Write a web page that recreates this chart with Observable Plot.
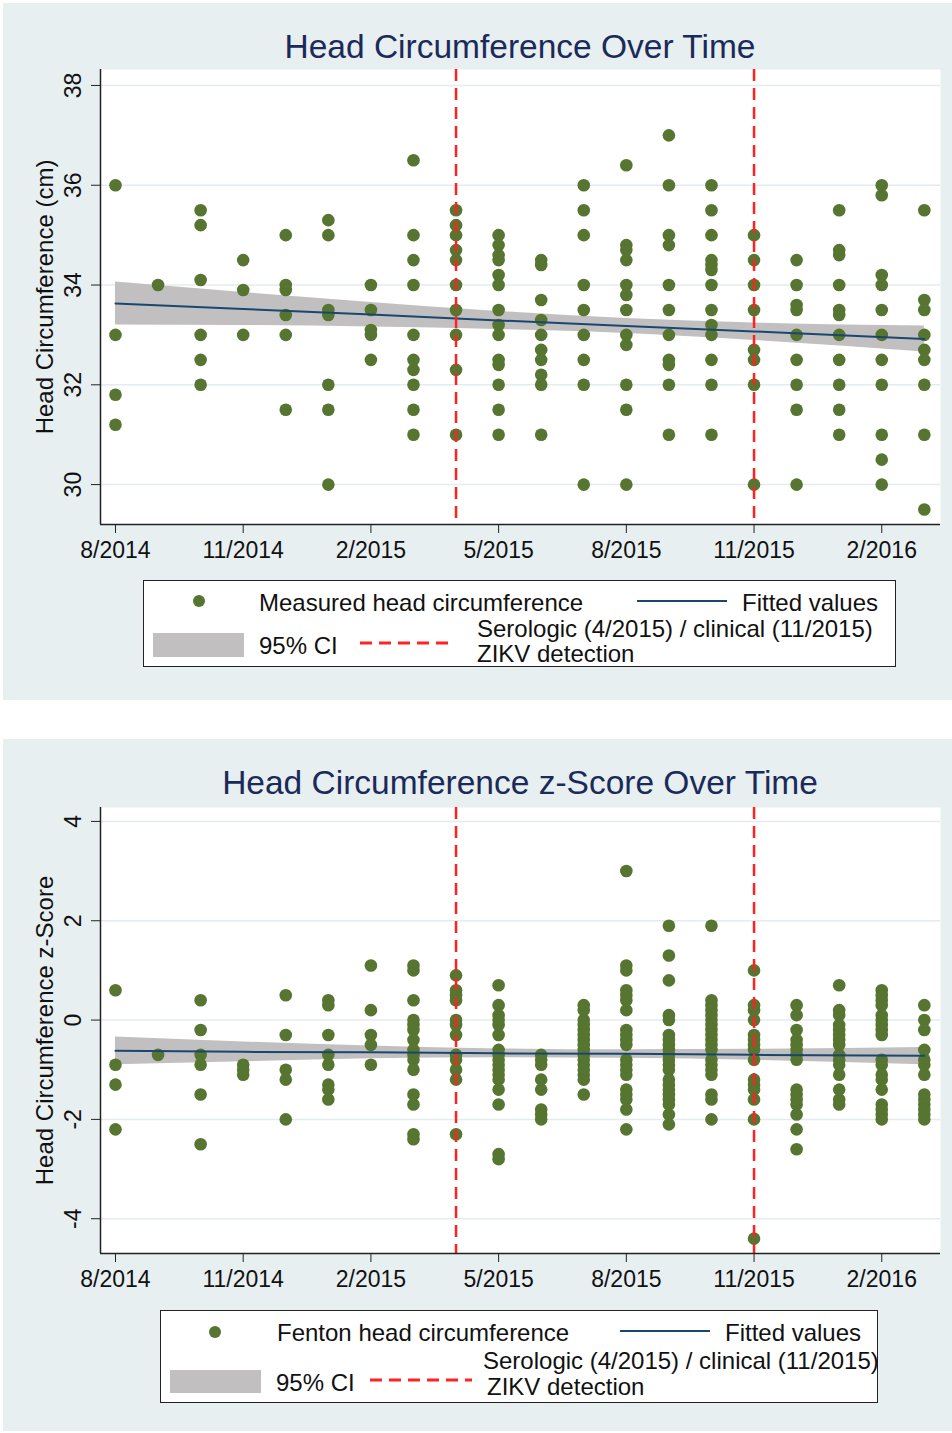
<!DOCTYPE html>
<html>
<head>
<meta charset="utf-8">
<script src="https://cdn.jsdelivr.net/npm/d3@7"></script>
<script src="https://cdn.jsdelivr.net/npm/@observablehq/plot@0.6"></script>
<style>
  html, body { margin: 0; padding: 0; background: #ffffff; }
  body { width: 952px; height: 1433px; position: relative; overflow: hidden;
         font-family: "Liberation Sans", Arial, Helvetica, sans-serif; }
  .panel { position: absolute; background: #e7eff1; }
  .title { position: absolute; width: 840px; left: 100px; text-align: center; font-size: 33.5px;
           line-height: 33.5px; color: #1b2a58; white-space: nowrap; }
  .lt { position: absolute; font-size: 24px; line-height: 22px; color: #111; white-space: nowrap; }
  .box { position: absolute; background: #fff; border: 1.5px solid #222; box-sizing: border-box; }
</style>
</head>
<body>
<script>
// ---------- data ----------
const months = ["8/2014","9/2014","10/2014","11/2014","12/2014","1/2015","2/2015","3/2015","4/2015","5/2015",
                "6/2015","7/2015","8/2015","9/2015","10/2015","11/2015","12/2015","1/2016","2/2016","3/2016"];
const tickMonths = [0, 3, 6, 9, 12, 15, 18];
const zikvMonths = [8, 15]; // 4/2015 serologic, 11/2015 clinical

// Measured head circumference (cm), one list per month
const hcByMonth = [
  [36, 33, 31.8, 31.2],
  [34],
  [35.5, 35.2, 34.1, 33, 32.5, 32],
  [34.5, 33.9, 33],
  [35, 34, 33.9, 33.4, 33, 31.5],
  [35.3, 35, 33.5, 33.4, 32, 31.5, 30],
  [34, 33.5, 33.1, 33, 32.5],
  [36.5, 35, 34.5, 34, 33, 32.5, 32.3, 32, 31.5, 31],
  [35.5, 35.2, 35, 34.7, 34.5, 34, 33.5, 33, 32.3, 31],
  [35, 34.8, 34.6, 34.5, 34.2, 34, 33.5, 33.2, 33, 32.5, 32.4, 32, 31.5, 31],
  [34.5, 34.4, 33.7, 33.3, 33, 32.7, 32.5, 32.2, 32, 31],
  [36, 35.5, 35, 34, 33.5, 33, 32.5, 32, 30],
  [36.4, 34.8, 34.7, 34.5, 34, 33.8, 33.5, 33, 32.8, 32, 31.5, 30],
  [37, 36, 35, 34.8, 34, 33.5, 33, 32.5, 32.4, 32, 31],
  [36, 35.5, 35, 34.5, 34.4, 34.3, 34, 33.5, 33.2, 33, 32.5, 32, 31],
  [35, 34.5, 34, 33.5, 32.7, 32.5, 32, 30],
  [34.5, 34, 33.6, 33.5, 33, 32.5, 32, 31.5, 30],
  [35.5, 34.7, 34.6, 34, 33.5, 33.4, 33, 32.5, 32, 31.5, 31],
  [36, 35.8, 34.2, 34, 33.5, 33, 32.5, 32, 31, 30.5, 30],
  [35.5, 33.7, 33.5, 33, 32.7, 32.5, 32, 31, 29.5]
];

// Fenton head circumference z-score, one list per month
const zByMonth = [
  [0.6, -0.9, -1.3, -2.2],
  [-0.7],
  [0.4, -0.2, -0.7, -0.9, -1.5, -2.5],
  [-0.9, -1.0, -1.1],
  [0.5, -0.3, -1.0, -1.2, -2.0],
  [0.4, 0.3, -0.3, -0.7, -0.9, -1.3, -1.4, -1.6],
  [1.1, 0.2, -0.3, -0.5, -0.9],
  [1.1, 1.0, 0.4, 0, -0.1, -0.2, -0.4, -0.6, -0.7, -0.8, -1.0, -1.5, -1.7, -2.3, -2.4],
  [0.9, 0.6, 0.5, 0.4, 0, -0.1, -0.3, -0.7, -0.8, -1.0, -1.2, -2.3],
  [0.7, 0.3, 0.1, 0, -0.1, -0.3, -0.6, -0.7, -0.8, -0.9, -1.0, -1.1, -1.2, -1.4, -1.7, -2.7, -2.8],
  [-0.7, -0.8, -0.9, -1.2, -1.4, -1.8, -1.9, -2.0],
  [0.3, 0.2, 0, -0.1, -0.2, -0.3, -0.4, -0.5, -0.6, -0.7, -0.8, -0.9, -1.0, -1.1, -1.2, -1.5],
  [3.0, 1.1, 1.0, 0.6, 0.5, 0.4, 0.2, -0.2, -0.3, -0.4, -0.5, -0.8, -0.9, -1.0, -1.1, -1.4, -1.5, -1.6, -1.8, -2.2],
  [1.9, 1.3, 0.8, 0.1, 0, -0.3, -0.4, -0.5, -0.6, -0.7, -0.8, -0.9, -1.0, -1.2, -1.3, -1.4, -1.5, -1.6, -1.7, -1.9, -2.1],
  [1.9, 0.4, 0.3, 0.2, 0.1, 0, -0.1, -0.2, -0.3, -0.4, -0.5, -0.6, -0.8, -0.9, -1.0, -1.1, -1.5, -1.6, -2.0],
  [1.0, 0.3, 0.2, 0, -0.3, -0.4, -0.5, -0.6, -0.8, -1.2, -1.3, -1.4, -1.6, -2.0, -4.4],
  [0.3, 0.1, -0.2, -0.4, -0.5, -0.6, -0.7, -0.8, -1.4, -1.5, -1.6, -1.7, -1.9, -2.2, -2.6],
  [0.7, 0.2, 0.1, -0.1, -0.2, -0.3, -0.4, -0.5, -0.7, -0.8, -0.9, -1.1, -1.4, -1.6, -1.7],
  [0.6, 0.5, 0.4, 0.3, 0.1, 0, -0.1, -0.2, -0.3, -0.8, -0.9, -1.1, -1.2, -1.4, -1.7, -1.8, -1.9, -2.0],
  [0.3, 0, -0.2, -0.6, -0.8, -0.9, -1.1, -1.5, -1.6, -1.7, -1.8, -1.9, -2.0]
];

// Fitted values and 95% CI at these months
const fitMonths = [0, 3, 6, 9, 12, 15, 19];
const hcFit  = [33.63, 33.52, 33.41, 33.29, 33.18, 33.07, 32.92];
const hcCiLo = [33.20, 33.19, 33.16, 33.11, 33.03, 32.89, 32.66];
const hcCiHi = [34.06, 33.85, 33.65, 33.47, 33.33, 33.24, 33.18];
const zFit   = [-0.62, -0.64, -0.65, -0.67, -0.68, -0.70, -0.72];
const zCiLo  = [-0.90, -0.84, -0.78, -0.76, -0.77, -0.81, -0.90];
const zCiHi  = [-0.34, -0.44, -0.52, -0.58, -0.60, -0.59, -0.55];

const hcTicks = [30, 32, 34, 36, 38];
const zTicks = [-4, -2, 0, 2, 4];

// ---------- styling ----------
const FONT = '"Liberation Sans", Arial, Helvetica, sans-serif';
const GREEN = "#567530";
const NAVY = "#1a476f";
const CIFILL = "#c1bfbf";
const RED = "#ff2222";
const GRID = "#e3ecf0";
const AXISC = "#222";
const xDomain = [-0.352, 19.38];

function flatten(byMonth) {
  const out = [];
  byMonth.forEach((vals, m) => vals.forEach(v => out.push({month: m, value: v})));
  return out;
}
function fitTable(fit, lo, hi) {
  return fitMonths.map((m, i) => ({month: m, fit: fit[i], lo: lo[i], hi: hi[i]}));
}

function panelPlot({data, fit, yDomain, yTicks, yLabel, height, marginBottom}) {
  return Plot.plot({
    width: 952,
    height,
    marginLeft: 100,
    marginRight: 12,
    marginTop: 9,
    marginBottom,
    style: {background: "transparent", fontFamily: FONT, overflow: "visible", color: "#111"},
    x: {domain: xDomain},
    y: {domain: yDomain},
    marks: [
      Plot.frame({fill: "white", stroke: "none"}),
      Plot.gridY(yTicks, {stroke: GRID, strokeOpacity: 1, strokeWidth: 1.5}),
      Plot.areaY(fit, {x: "month", y1: "lo", y2: "hi", fill: CIFILL, fillOpacity: 1, curve: "monotone-x"}),
      Plot.dot(data, {x: "month", y: "value", r: 6.3, fill: GREEN, stroke: "none"}),
      Plot.line(fit, {x: "month", y: "fit", stroke: NAVY, strokeWidth: 2, curve: "linear"}),
      Plot.ruleX(zikvMonths, {stroke: RED, strokeWidth: 2.5, strokeDasharray: "12,7"}),
      Plot.ruleX([xDomain[0]], {stroke: AXISC, strokeWidth: 1.5}),
      Plot.ruleY([yDomain[0]], {stroke: AXISC, strokeWidth: 1.5}),
      Plot.axisX(tickMonths, {tickSize: 9, tickPadding: 8, fontSize: 23, tickFormat: d => months[d], label: null, stroke: AXISC}),
      Plot.axisY(yTicks, {tickSize: 9, tickPadding: 11, tickRotate: -90, fontSize: 23, tickFormat: d => String(d), label: null, stroke: AXISC}),
      Plot.text([yLabel], {text: d => d, frameAnchor: "left", textAnchor: "middle", lineAnchor: "middle", dx: -55, rotate: -90, fontSize: 24, fill: "#111"})
    ]
  });
}

function place(el, left, top) {
  el.style.position = "absolute";
  el.style.left = left + "px";
  el.style.top = top + "px";
  document.body.appendChild(el);
  return el;
}
function div(cls, css, text) {
  const d = document.createElement("div");
  if (cls) d.className = cls;
  Object.assign(d.style, css || {});
  if (text != null) d.textContent = text;
  document.body.appendChild(d);
  return d;
}
function txt(s, left, capCenter) {
  return div("lt", {left: left + "px", top: (capCenter - 10.7) + "px"}, s);
}
function dashed(x1, x2, y) {
  const ns = "http://www.w3.org/2000/svg";
  const svg = document.createElementNS(ns, "svg");
  svg.setAttribute("width", x2 - x1);
  svg.setAttribute("height", 6);
  svg.style.position = "absolute";
  svg.style.left = x1 + "px";
  svg.style.top = (y - 3) + "px";
  const l = document.createElementNS(ns, "line");
  l.setAttribute("x1", 0); l.setAttribute("x2", x2 - x1);
  l.setAttribute("y1", 3); l.setAttribute("y2", 3);
  l.setAttribute("stroke", RED); l.setAttribute("stroke-width", 3);
  l.setAttribute("stroke-dasharray", "12,7");
  svg.appendChild(l);
  document.body.appendChild(svg);
}

function legend(o) {
  div("box", {left: o.box[0] + "px", top: o.box[1] + "px", width: (o.box[2] - o.box[0]) + "px", height: (o.box[3] - o.box[1]) + "px"});
  div(null, {position: "absolute", left: (o.dot[0] - 6) + "px", top: (o.dot[1] - 6) + "px", width: "12px", height: "12px", borderRadius: "50%", background: GREEN});
  txt(o.label, o.labelPos[0], o.labelPos[1]);
  div(null, {position: "absolute", left: o.fit[0] + "px", top: (o.fit[2] - 1) + "px", width: (o.fit[1] - o.fit[0]) + "px", height: "2px", background: NAVY});
  txt("Fitted values", o.fitText[0], o.fitText[1]);
  div(null, {position: "absolute", left: o.ci[0] + "px", top: o.ci[1] + "px", width: (o.ci[2] - o.ci[0]) + "px", height: (o.ci[3] - o.ci[1]) + "px", background: CIFILL});
  txt("95% CI", o.ciText[0], o.ciText[1]);
  dashed(o.dash[0], o.dash[1], o.dash[2]);
  txt("Serologic (4/2015) / clinical (11/2015)", o.sero[0], o.sero[1]);
  txt("ZIKV detection", o.zikv[0], o.zikv[1]);
}

// ---------- panel 1 ----------
div("panel", {left: "3px", top: "3px", width: "949px", height: "697px"});
div("title", {top: "29.5px"}, "Head Circumference Over Time");
const p1 = panelPlot({
  data: flatten(hcByMonth),
  fit: fitTable(hcFit, hcCiLo, hcCiHi),
  yDomain: [29.2, 38.32],
  yTicks: hcTicks,
  yLabel: "Head Circumference (cm)",
  height: 518,
  marginBottom: 54
});
place(p1, 0, 60);
legend({
  box: [143, 580, 896, 667],
  dot: [199, 601],
  label: "Measured head circumference", labelPos: [259, 603],
  fit: [637, 727, 601], fitText: [742, 603],
  ci: [153, 633, 244, 657], ciText: [259, 646],
  dash: [360, 455, 643],
  sero: [477, 629], zikv: [477, 654]
});

// ---------- panel 2 ----------
div("panel", {left: "3px", top: "739px", width: "949px", height: "692px"});
div("title", {top: "765.5px"}, "Head Circumference z-Score Over Time");
const p2 = panelPlot({
  data: flatten(zByMonth),
  fit: fitTable(zFit, zCiLo, zCiHi),
  yDomain: [-4.7, 4.28],
  yTicks: zTicks,
  yLabel: "Head Circumference z-Score",
  height: 508,
  marginBottom: 53
});
place(p2, 0, 798);
legend({
  box: [160, 1310, 878, 1403],
  dot: [215, 1332],
  label: "Fenton head circumference", labelPos: [277, 1333],
  fit: [620, 710, 1331], fitText: [725, 1333],
  ci: [170, 1370, 261, 1393], ciText: [276, 1383],
  dash: [370, 472, 1380],
  sero: [483, 1361], zikv: [487, 1387]
});
</script>
</body>
</html>
